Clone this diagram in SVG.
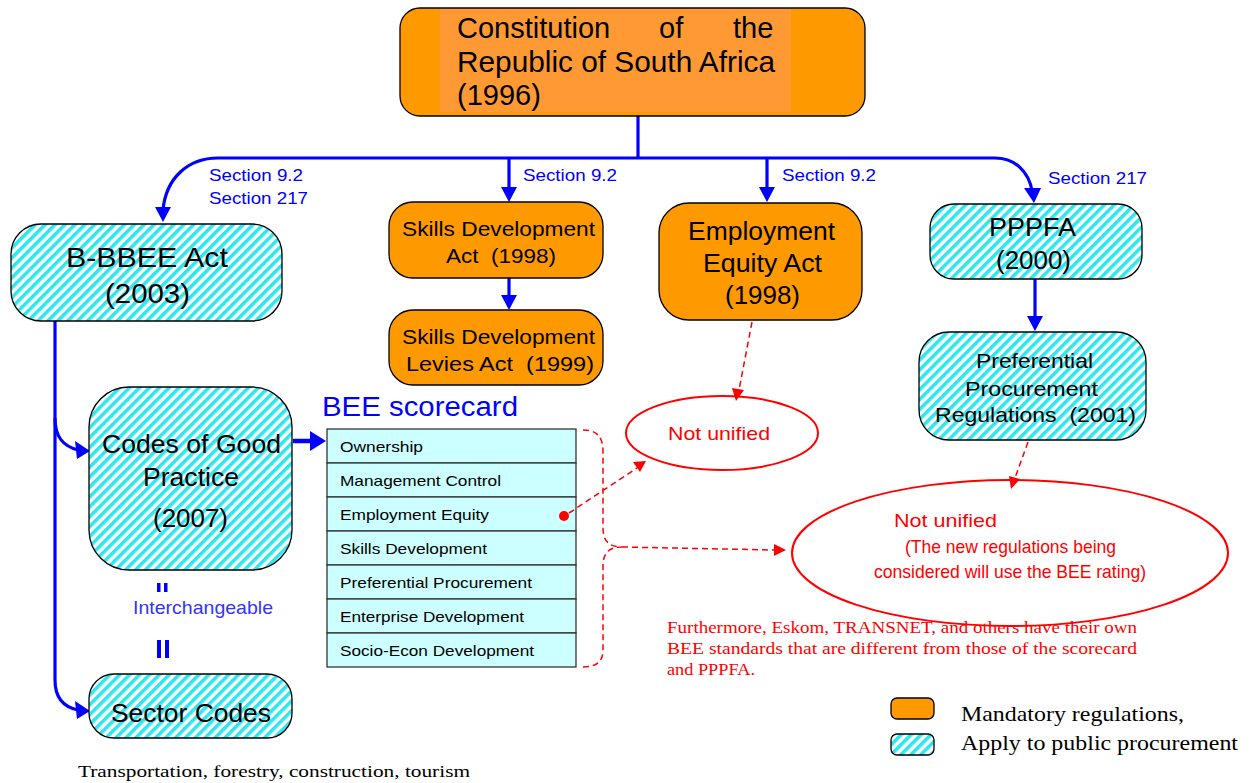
<svg xmlns="http://www.w3.org/2000/svg" width="1254" height="783" viewBox="0 0 1254 783">
  <defs>
    <!-- diagonal cyan stripes used for the "public procurement" boxes -->
    <pattern id="hatch" patternUnits="userSpaceOnUse" width="7" height="7" patternTransform="rotate(45)">
      <rect width="7" height="7" fill="#ffffff"/>
      <rect width="3.6" height="7" fill="#2ee6ee"/>
    </pattern>
    <style>
      .box { stroke: #000; stroke-width: 1.3; }
      .mand { fill: #ff9900; }
      .pub { fill: url(#hatch); }
      .lbl { font-family: "Liberation Sans", Arial, sans-serif; fill: #000; }
      .sec { font-family: "Liberation Sans", Arial, sans-serif; fill: #0000ff; font-size: 17px; }
      .blue { stroke: #0000ff; stroke-width: 3.2; fill: none; }
      .bluehead { fill: #0000ff; }
      .red { stroke: #ff0000; stroke-width: 1.5; fill: none; stroke-dasharray: 6 4; }
      .redhead { fill: #ff0000; }
      .redtxt { font-family: "Liberation Sans", Arial, sans-serif; fill: #ff0000; font-size: 19px; }
      .serif { font-family: "Liberation Serif", "Times New Roman", serif; }
      .row { fill: #ccffff; stroke: #333; stroke-width: 1.3; }
      .rowtxt { font-family: "Liberation Sans", Arial, sans-serif; font-size: 15px; fill: #000; }
    </style>
  </defs>

  <!-- connectors -->
  <g id="connectors">
    <path class="blue" d="M638,116 V158"/>
    <path class="blue" d="M638,158 H218 C188,158 166,178 163,210"/>
    <polygon class="bluehead" points="155,207 171,207 163,222"/>
    <path class="blue" d="M509,158 V190"/>
    <polygon class="bluehead" points="501,187 517,187 509,202"/>
    <path class="blue" d="M767,158 V190"/>
    <polygon class="bluehead" points="759,187 775,187 767,202"/>
    <path class="blue" d="M638,158 H995 C1015,158 1029,172 1032,191"/>
    <polygon class="bluehead" points="1024,188 1041,188 1034,203"/>
    <path class="blue" d="M509,278 V298"/>
    <polygon class="bluehead" points="501,295 517,295 509,310"/>
    <path class="blue" d="M1035,279 V319"/>
    <polygon class="bluehead" points="1027,316 1043,316 1035,331"/>
    <path class="blue" d="M55,321 V680 C55,698 63,707 78,710"/>
    <path class="blue" d="M55,418 C55,437 63,446 78,450"/>
    <polygon class="bluehead" points="75,441 77,459 90,451"/>
    <polygon class="bluehead" points="75,701 77,719 90,711"/>
    <path class="blue" d="M293,441 H312" style="stroke-width:4.5"/>
    <polygon class="bluehead" points="310,431 310,451 326,441"/>

    <path class="red" d="M752,322 L739,390"/>
    <polygon class="redhead" points="732,388 744,390 736,401"/>
    <path class="red" d="M569,513 L637,468"/>
    <polygon class="redhead" points="633,462 640,472 646,461"/>
    <path class="red" d="M1028,442 L1015,478"/>
    <polygon class="redhead" points="1009,476 1020,479 1011,489"/>
    <path class="red" d="M583,430 C598,430 603,438 603,452 V528 C603,541 609,547 622,547 C609,547 603,553 603,566 V650 C603,661 597,667 583,667"/>
    <path class="red" d="M622,547 L774,550"/>
    <polygon class="redhead" points="774,544 774,556 786,550"/>
  </g>

  <!-- Constitution -->
  <g id="constitution">
    <rect class="box mand" x="400" y="8" width="465" height="108" rx="20"/>
    <rect x="440" y="9" width="351" height="103" fill="#ff9933"/>
    <text class="lbl" font-size="29" y="38"><tspan x="457">Constitution</tspan><tspan x="659">of</tspan><tspan x="733">the</tspan></text>
    <text class="lbl" font-size="29" x="457" y="72" textLength="318" lengthAdjust="spacingAndGlyphs">Republic of South Africa</text>
    <text class="lbl" font-size="29" x="457" y="105">(1996)</text>
  </g>

  <!-- Section labels -->
  <g id="section-labels">
    <text class="sec" x="209" y="181" textLength="94" lengthAdjust="spacingAndGlyphs">Section 9.2</text>
    <text class="sec" x="209" y="204" textLength="99" lengthAdjust="spacingAndGlyphs">Section 217</text>
    <text class="sec" x="523" y="181" textLength="94" lengthAdjust="spacingAndGlyphs">Section 9.2</text>
    <text class="sec" x="782" y="181" textLength="94" lengthAdjust="spacingAndGlyphs">Section 9.2</text>
    <text class="sec" x="1048" y="184" textLength="99" lengthAdjust="spacingAndGlyphs">Section 217</text>
  </g>

  <!-- B-BBEE Act -->
  <g id="bbbee-act">
    <rect class="box pub" x="11" y="224" width="271" height="97" rx="30"/>
    <text class="lbl" font-size="28" x="66" y="267" textLength="162" lengthAdjust="spacingAndGlyphs">B-BBEE Act</text>
    <text class="lbl" font-size="28" x="105" y="303" textLength="85" lengthAdjust="spacingAndGlyphs">(2003)</text>
  </g>

  <!-- Skills Development Act -->
  <g id="skills-dev-act">
    <rect class="box mand" x="389" y="202" width="214" height="76" rx="24"/>
    <text class="lbl" font-size="21" x="402" y="236" textLength="193" lengthAdjust="spacingAndGlyphs">Skills Development</text>
    <text class="lbl" font-size="21" x="446" y="263" textLength="110" lengthAdjust="spacingAndGlyphs" xml:space="preserve">Act  (1998)</text>
  </g>

  <!-- Skills Development Levies Act -->
  <g id="skills-levies-act">
    <rect class="box mand" x="389" y="310" width="214" height="75" rx="24"/>
    <text class="lbl" font-size="21" x="402" y="344" textLength="193" lengthAdjust="spacingAndGlyphs">Skills Development</text>
    <text class="lbl" font-size="21" x="406" y="371" textLength="188" lengthAdjust="spacingAndGlyphs" xml:space="preserve">Levies Act  (1999)</text>
  </g>

  <!-- Employment Equity Act -->
  <g id="employment-equity-act">
    <rect class="box mand" x="659" y="203" width="203" height="117" rx="30"/>
    <text class="lbl" font-size="25" x="688" y="240" textLength="147" lengthAdjust="spacingAndGlyphs">Employment</text>
    <text class="lbl" font-size="25" x="703" y="272" textLength="119" lengthAdjust="spacingAndGlyphs">Equity Act</text>
    <text class="lbl" font-size="25" x="725" y="304" textLength="75" lengthAdjust="spacingAndGlyphs">(1998)</text>
  </g>

  <!-- PPPFA -->
  <g id="pppfa">
    <rect class="box pub" x="930" y="204" width="212" height="75" rx="24"/>
    <text class="lbl" font-size="25" x="989" y="236" textLength="87" lengthAdjust="spacingAndGlyphs">PPPFA</text>
    <text class="lbl" font-size="25" x="996" y="269" textLength="75" lengthAdjust="spacingAndGlyphs">(2000)</text>
  </g>

  <!-- Preferential Procurement Regulations -->
  <g id="pp-regulations">
    <rect class="box pub" x="919" y="332" width="227" height="108" rx="30"/>
    <text class="lbl" font-size="21" x="976" y="368" textLength="117" lengthAdjust="spacingAndGlyphs">Preferential</text>
    <text class="lbl" font-size="21" x="965" y="396" textLength="133" lengthAdjust="spacingAndGlyphs">Procurement</text>
    <text class="lbl" font-size="21" x="935" y="422" textLength="201" lengthAdjust="spacingAndGlyphs" xml:space="preserve">Regulations  (2001)</text>
  </g>

  <!-- Codes of Good Practice -->
  <g id="codes-good-practice">
    <rect class="box pub" x="89" y="387" width="203" height="183" rx="40"/>
    <text class="lbl" font-size="25" x="102" y="453" textLength="179" lengthAdjust="spacingAndGlyphs">Codes of Good</text>
    <text class="lbl" font-size="25" x="143" y="486" textLength="96" lengthAdjust="spacingAndGlyphs">Practice</text>
    <text class="lbl" font-size="25" x="153" y="527" textLength="75" lengthAdjust="spacingAndGlyphs">(2007)</text>
  </g>

  <!-- Interchangeable marker -->
  <g id="interchangeable">
    <rect x="157" y="583" width="3.5" height="9" fill="#0000ff"/>
    <rect x="164" y="583" width="3.5" height="9" fill="#0000ff"/>
    <text x="133" y="614" font-family="Liberation Sans, Arial, sans-serif" font-size="19" fill="#3333ff" textLength="140" lengthAdjust="spacingAndGlyphs">Interchangeable</text>
    <rect x="157" y="640" width="4" height="18" fill="#0000ff"/>
    <rect x="165" y="640" width="4" height="18" fill="#0000ff"/>
  </g>

  <!-- Sector Codes -->
  <g id="sector-codes">
    <rect class="box pub" x="89" y="674" width="203" height="64" rx="25"/>
    <text class="lbl" font-size="25" x="111" y="722" textLength="160" lengthAdjust="spacingAndGlyphs">Sector Codes</text>
    <text class="serif" font-size="17" x="78" y="777" textLength="392" lengthAdjust="spacingAndGlyphs">Transportation, forestry, construction, tourism</text>
  </g>

  <!-- BEE scorecard -->
  <g id="bee-scorecard">
    <text x="322" y="416" font-family="Liberation Sans, Arial, sans-serif" font-size="27" fill="#0000ff" textLength="196" lengthAdjust="spacingAndGlyphs">BEE scorecard</text>
    <rect class="row" x="327" y="429" width="249" height="34"/>
    <rect class="row" x="327" y="463" width="249" height="34"/>
    <rect class="row" x="327" y="497" width="249" height="34"/>
    <rect class="row" x="327" y="531" width="249" height="34"/>
    <rect class="row" x="327" y="565" width="249" height="34"/>
    <rect class="row" x="327" y="599" width="249" height="34"/>
    <rect class="row" x="327" y="633" width="249" height="34"/>
    <text class="rowtxt" x="340" y="452" textLength="83" lengthAdjust="spacingAndGlyphs">Ownership</text>
    <text class="rowtxt" x="340" y="486" textLength="161" lengthAdjust="spacingAndGlyphs">Management Control</text>
    <text class="rowtxt" x="340" y="520" textLength="149" lengthAdjust="spacingAndGlyphs">Employment Equity</text>
    <text class="rowtxt" x="340" y="554" textLength="147" lengthAdjust="spacingAndGlyphs">Skills Development</text>
    <text class="rowtxt" x="340" y="588" textLength="192" lengthAdjust="spacingAndGlyphs">Preferential Procurement</text>
    <text class="rowtxt" x="340" y="622" textLength="184" lengthAdjust="spacingAndGlyphs">Enterprise Development</text>
    <text class="rowtxt" x="340" y="656" textLength="194" lengthAdjust="spacingAndGlyphs">Socio-Econ Development</text>
    <!-- marker on the Employment Equity row -->
    <circle cx="564" cy="516" r="5" fill="#ff0000"/>
    <path class="red" d="M569,513 L577,508"/>
  </g>

  <!-- Not unified (employment equity) -->
  <g id="not-unified-1">
    <ellipse cx="722" cy="433" rx="96" ry="37" fill="none" stroke="#ff0000" stroke-width="2"/>
    <text class="redtxt" x="668" y="440" textLength="102" lengthAdjust="spacingAndGlyphs">Not unified</text>
  </g>

  <!-- Not unified (procurement) -->
  <g id="not-unified-2">
    <ellipse cx="1010" cy="553" rx="218" ry="73" fill="none" stroke="#ff0000" stroke-width="2"/>
    <text class="redtxt" x="894" y="527" textLength="103" lengthAdjust="spacingAndGlyphs">Not unified</text>
    <text class="redtxt" font-size="18" x="905" y="553" textLength="211" lengthAdjust="spacingAndGlyphs">(The new regulations being</text>
    <text class="redtxt" font-size="18" x="874" y="578" textLength="272" lengthAdjust="spacingAndGlyphs">considered will use the BEE rating)</text>
  </g>

  <!-- note -->
  <g id="note" class="serif" font-size="17.5" fill="#ff0000">
    <text x="667" y="633" textLength="470" lengthAdjust="spacingAndGlyphs">Furthermore, Eskom, TRANSNET, and others have their own</text>
    <text x="667" y="654" textLength="470" lengthAdjust="spacingAndGlyphs">BEE standards that are different from those of the scorecard</text>
    <text x="667" y="675" textLength="88" lengthAdjust="spacingAndGlyphs">and PPPFA.</text>
  </g>

  <!-- legend -->
  <g id="legend">
    <rect class="box mand" x="891" y="698" width="43" height="21" rx="6"/>
    <rect class="box pub" x="891" y="734" width="43" height="21" rx="6"/>
    <text class="serif" font-size="21" x="961" y="721" textLength="223" lengthAdjust="spacingAndGlyphs">Mandatory regulations,</text>
    <text class="serif" font-size="21" x="961" y="750" textLength="277" lengthAdjust="spacingAndGlyphs">Apply to public procurement</text>
  </g>
</svg>
